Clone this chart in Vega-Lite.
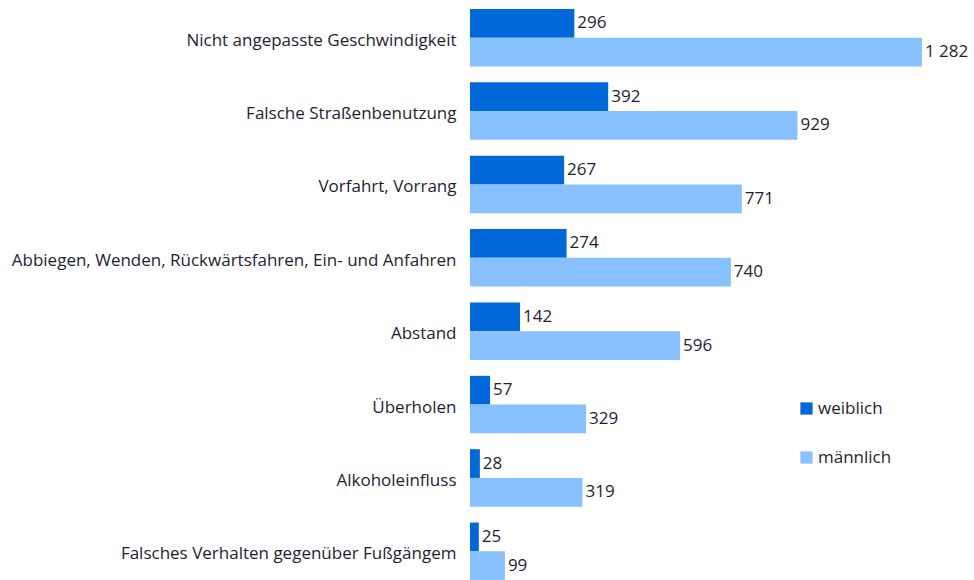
{
  "$schema": "https://vega.github.io/schema/vega-lite/v6.json",
  "width": 490,
  "height": 589,
  "autosize": {"type": "none"},
  "padding": {"left": 470, "top": 0, "right": 14, "bottom": 0},
  "background": "white",
  "config": {
    "view": {"stroke": null},
    "font": "Open Sans",
    "locale": {"number": {"decimal": ",", "thousands": " ", "grouping": [3], "currency": ["", " €"]}}
  },
  "data": {
    "values": [
      {"Ursache": "Nicht angepasste Geschwindigkeit", "Geschlecht": "weiblich", "Anzahl": 296},
      {"Ursache": "Nicht angepasste Geschwindigkeit", "Geschlecht": "männlich", "Anzahl": 1282},
      {"Ursache": "Falsche Straßenbenutzung", "Geschlecht": "weiblich", "Anzahl": 392},
      {"Ursache": "Falsche Straßenbenutzung", "Geschlecht": "männlich", "Anzahl": 929},
      {"Ursache": "Vorfahrt, Vorrang", "Geschlecht": "weiblich", "Anzahl": 267},
      {"Ursache": "Vorfahrt, Vorrang", "Geschlecht": "männlich", "Anzahl": 771},
      {"Ursache": "Abbiegen, Wenden, Rückwärtsfahren, Ein- und Anfahren", "Geschlecht": "weiblich", "Anzahl": 274},
      {"Ursache": "Abbiegen, Wenden, Rückwärtsfahren, Ein- und Anfahren", "Geschlecht": "männlich", "Anzahl": 740},
      {"Ursache": "Abstand", "Geschlecht": "weiblich", "Anzahl": 142},
      {"Ursache": "Abstand", "Geschlecht": "männlich", "Anzahl": 596},
      {"Ursache": "Überholen", "Geschlecht": "weiblich", "Anzahl": 57},
      {"Ursache": "Überholen", "Geschlecht": "männlich", "Anzahl": 329},
      {"Ursache": "Alkoholeinfluss", "Geschlecht": "weiblich", "Anzahl": 28},
      {"Ursache": "Alkoholeinfluss", "Geschlecht": "männlich", "Anzahl": 319},
      {"Ursache": "Falsches Verhalten gegenüber Fußgängem", "Geschlecht": "weiblich", "Anzahl": 25},
      {"Ursache": "Falsches Verhalten gegenüber Fußgängem", "Geschlecht": "männlich", "Anzahl": 99}
    ]
  },
  "encoding": {
    "y": {
      "field": "Ursache", "type": "nominal", "sort": null, "title": null,
      "scale": {"paddingInner": 0.217, "paddingOuter": 0.1226},
      "axis": {"ticks": false, "domain": false, "labelPadding": 14, "labelFontSize": 17, "labelColor": "#1e1e32", "labelOffset": 3, "labelLimit": 480}
    },
    "yOffset": {"field": "Geschlecht", "type": "nominal", "sort": ["weiblich", "männlich"]},
    "x": {
      "field": "Anzahl", "type": "quantitative", "scale": {"domain": [0, 1390]}, "axis": null
    }
  },
  "layer": [
    {
      "mark": {"type": "bar"},
      "encoding": {
        "color": {
          "field": "Geschlecht", "type": "nominal", "sort": ["weiblich", "männlich"],
          "scale": {"domain": ["weiblich", "männlich"], "range": ["#0068D8", "#87C1FF"]},
          "legend": {
            "title": null, "orient": "none", "legendX": 328, "legendY": 400,
            "symbolType": "square", "symbolSize": 150, "symbolStrokeWidth": 0,
            "labelFontSize": 17, "labelColor": "#1e1e32", "rowPadding": 31, "labelOffset": 3
          }
        }
      }
    },
    {
      "mark": {"type": "text", "align": "left", "dx": 3, "fontSize": 17, "color": "#1e1e32"},
      "encoding": {"text": {"field": "Anzahl", "type": "quantitative", "format": ",d"}}
    }
  ]
}
